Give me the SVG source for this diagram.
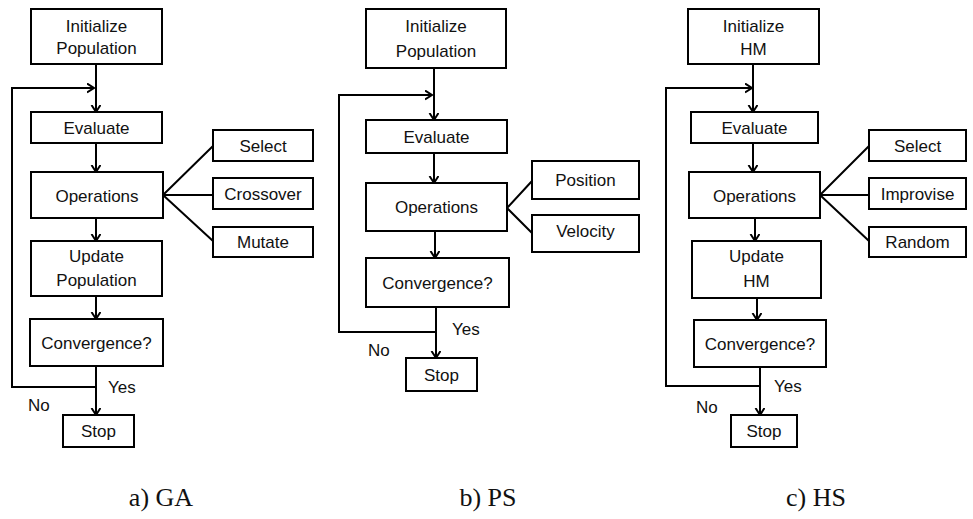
<svg xmlns="http://www.w3.org/2000/svg" width="973" height="519" viewBox="0 0 973 519">
<style>
rect{fill:#fff;stroke:#000;stroke-width:2}
.c path{fill:none;stroke:#000;stroke-width:2}
text{font-family:"Liberation Sans",Arial,sans-serif;font-size:17px;fill:#111;text-anchor:middle}
text.l{text-anchor:start}
text.cap{font-family:"Liberation Serif","Times New Roman",serif;font-size:26px}
</style>
<defs>
<marker id="ah" markerUnits="userSpaceOnUse" markerWidth="12" markerHeight="12" refX="7" refY="5" orient="auto">
<path d="M0,0.5 L7,5 L0,9.5" fill="none" stroke="#000" stroke-width="2"/>
</marker>
</defs>

<g class="c" id="connectors">
<!-- a -->
<path d="M96,64 V112" marker-end="url(#ah)"/>
<path d="M96,143 V172" marker-end="url(#ah)"/>
<path d="M96,218 V241" marker-end="url(#ah)"/>
<path d="M96,296 V319" marker-end="url(#ah)"/>
<path d="M96,366 V415" marker-end="url(#ah)"/>
<path d="M96,387 H12 V88 H94" marker-end="url(#ah)"/>
<path d="M163,195 L213,146 M163,195 H213 M163,195 L213,241"/>
<!-- b -->
<path d="M434,68 V120" marker-end="url(#ah)"/>
<path d="M434,153 V183" marker-end="url(#ah)"/>
<path d="M435,231 V258" marker-end="url(#ah)"/>
<path d="M436,307 V358" marker-end="url(#ah)"/>
<path d="M436,332 H339 V95 H432" marker-end="url(#ah)"/>
<path d="M507,208 L532,181 M507,208 L532,233"/>
<!-- c -->
<path d="M753,64 V112" marker-end="url(#ah)"/>
<path d="M753,143 V172" marker-end="url(#ah)"/>
<path d="M755,218 V241" marker-end="url(#ah)"/>
<path d="M757,298 V320" marker-end="url(#ah)"/>
<path d="M760,367 V415" marker-end="url(#ah)"/>
<path d="M760,386 H666 V88 H752" marker-end="url(#ah)"/>
<path d="M820,195 L869,146 M820,195 H869 M820,195 L869,241"/>
</g>

<!-- Panel a -->
<g id="a-init"><rect x="31" y="9" width="131" height="55"/><text x="96.5" y="32">Initialize</text><text x="96.5" y="54">Population</text></g>
<g id="a-eval"><rect x="31" y="112" width="131" height="31"/><text x="96.5" y="134">Evaluate</text></g>
<g id="a-ops"><rect x="31" y="172" width="132" height="46"/><text x="97" y="202">Operations</text></g>
<g id="a-select"><rect x="213" y="130" width="100" height="31"/><text x="263" y="152">Select</text></g>
<g id="a-cross"><rect x="213" y="178" width="100" height="31"/><text x="263" y="200">Crossover</text></g>
<g id="a-mutate"><rect x="213" y="227" width="100" height="30"/><text x="263" y="248">Mutate</text></g>
<g id="a-update"><rect x="31" y="241" width="131" height="55"/><text x="96.5" y="262">Update</text><text x="96.5" y="286">Population</text></g>
<g id="a-conv"><rect x="30" y="319" width="133" height="47"/><text x="96.5" y="349">Convergence?</text></g>
<g id="a-stop"><rect x="63" y="415" width="71" height="32"/><text x="98.5" y="437">Stop</text></g>
<text class="l" x="108" y="393">Yes</text>
<text class="l" x="28" y="411">No</text>
<text class="cap" x="161" y="506">a) GA</text>

<!-- Panel b -->
<g id="b-init"><rect x="366" y="9" width="140" height="59"/><text x="436" y="32">Initialize</text><text x="436" y="57">Population</text></g>
<g id="b-eval"><rect x="366" y="120" width="141" height="33"/><text x="436.5" y="143">Evaluate</text></g>
<g id="b-ops"><rect x="366" y="183" width="141" height="48"/><text x="436.5" y="213">Operations</text></g>
<g id="b-pos"><rect x="532" y="161" width="107" height="38"/><text x="585.5" y="186">Position</text></g>
<g id="b-vel"><rect x="532" y="215" width="107" height="37"/><text x="585.5" y="237">Velocity</text></g>
<g id="b-conv"><rect x="366" y="258" width="143" height="49"/><text x="437.5" y="289">Convergence?</text></g>
<g id="b-stop"><rect x="406" y="358" width="71" height="33"/><text x="441.5" y="381">Stop</text></g>
<text class="l" x="452" y="335">Yes</text>
<text class="l" x="368" y="356">No</text>
<text class="cap" x="488" y="506">b) PS</text>

<!-- Panel c -->
<g id="c-init"><rect x="688" y="9" width="131" height="55"/><text x="753.5" y="32">Initialize</text><text x="753.5" y="55">HM</text></g>
<g id="c-eval"><rect x="691" y="112" width="127" height="31"/><text x="754.5" y="134">Evaluate</text></g>
<g id="c-ops"><rect x="689" y="172" width="131" height="46"/><text x="754.5" y="202">Operations</text></g>
<g id="c-select"><rect x="869" y="130" width="97" height="31"/><text x="917.5" y="152">Select</text></g>
<g id="c-impr"><rect x="869" y="178" width="97" height="31"/><text x="917.5" y="200">Improvise</text></g>
<g id="c-random"><rect x="869" y="227" width="97" height="30"/><text x="917.5" y="248">Random</text></g>
<g id="c-update"><rect x="692" y="241" width="129" height="57"/><text x="756.5" y="262">Update</text><text x="756.5" y="287">HM</text></g>
<g id="c-conv"><rect x="694" y="320" width="132" height="47"/><text x="760" y="350">Convergence?</text></g>
<g id="c-stop"><rect x="731" y="415" width="66" height="32"/><text x="764" y="437">Stop</text></g>
<text class="l" x="774" y="392">Yes</text>
<text class="l" x="696" y="413">No</text>
<text class="cap" x="816" y="506">c) HS</text>
</svg>
